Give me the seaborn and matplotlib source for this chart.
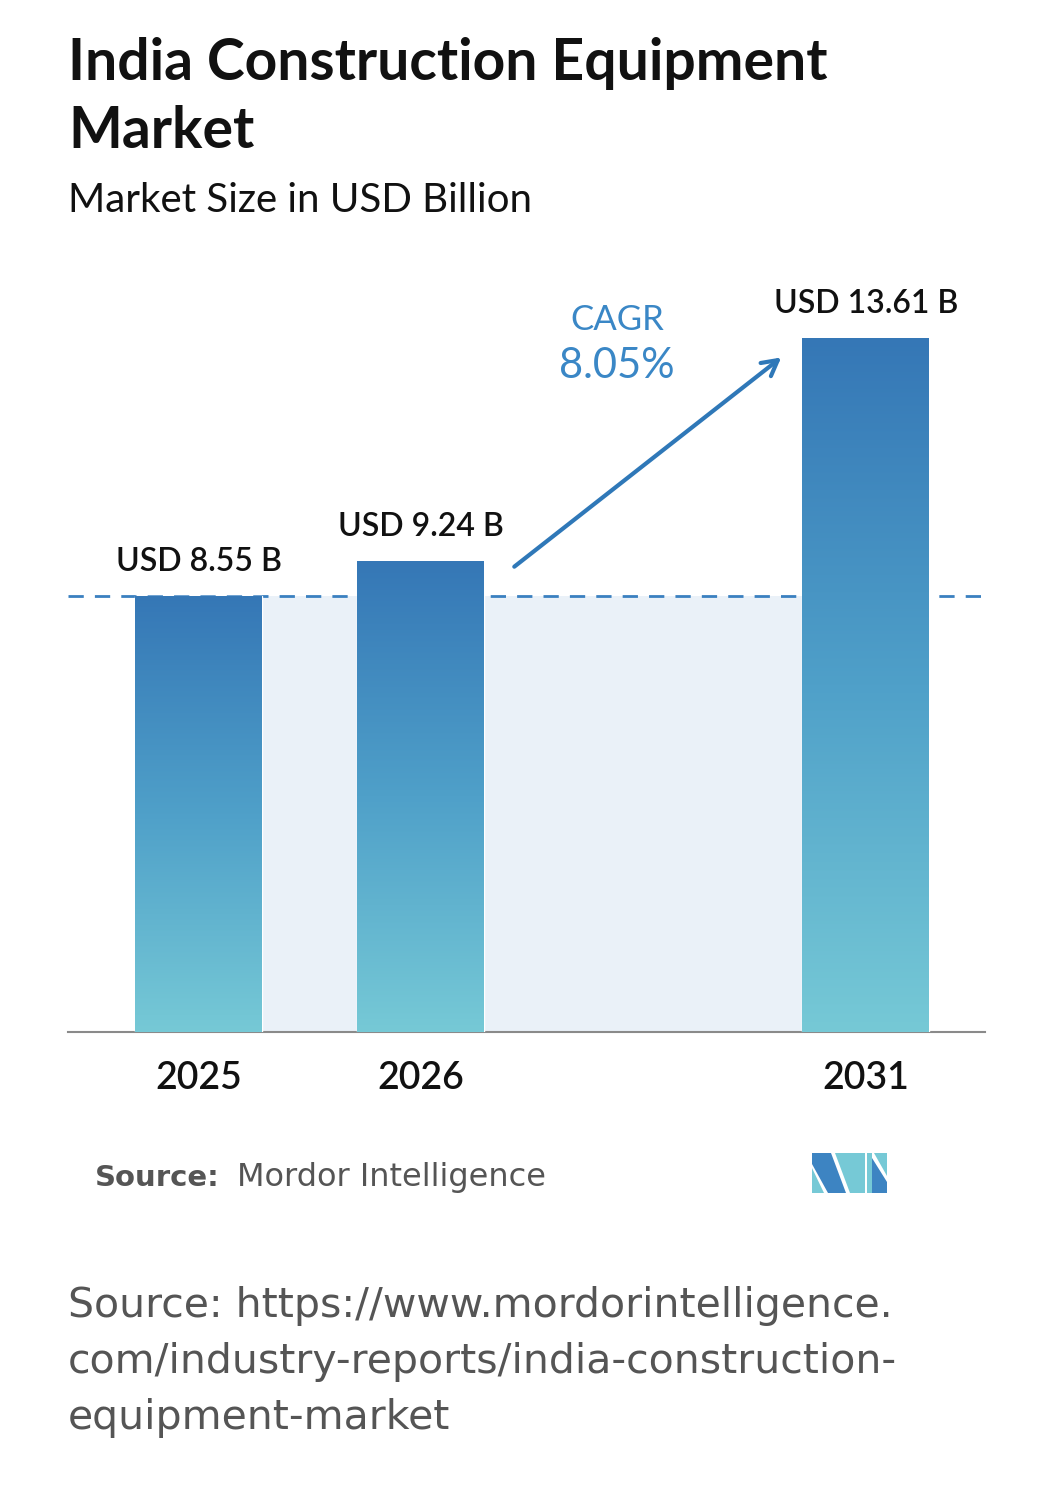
import numpy as np
import matplotlib
matplotlib.use("Agg")
import matplotlib.pyplot as plt
from matplotlib.colors import LinearSegmentedColormap
from matplotlib.patches import Polygon
import seaborn as sns

# data
years = ["2025", "2026", "2031"]
values = [8.55, 9.24, 13.61]
value_labels = ["USD 8.55 B", "USD 9.24 B", "USD 13.61 B"]
cagr_label = "CAGR"
cagr_value = "8.05%"
slot_order = ["2025", "2026", "", "2031"]  # blank slot = gap before forecast year

W, H = 1055, 1491

sns.set_style("white")
plt.rcParams["font.family"] = ["Lato", "DejaVu Sans"]


def fx(px):
    return px / W


def fy(py):
    return 1 - py / H


fig = plt.figure(figsize=(W / 100, H / 100), dpi=100)
ax = fig.add_axes([fx(68), fy(1032), fx(990) - fx(68), (1032 - 280) / H])

sns.barplot(x=years, y=values, order=slot_order, width=0.571,
            color="#3577b6", ax=ax, zorder=3)

XLIM = (-0.587, 3.559)
YLIM = (0, 752 / 51)

# shaded band behind the bars, up to the first year's value
ax.fill_between([0, 3], 0, values[0], color="#eaf1f8", zorder=1, lw=0)
ax.axhline(values[0], color="#3a80c0", lw=2, dashes=(5.5, 4), zorder=2)

# gradient fill for every bar
cmap = LinearSegmentedColormap.from_list("bar", ["#76c9d6", "#4fa0c9", "#3577b6"])
grad = np.linspace(0, 1, 256).reshape(-1, 1)
for bar in list(ax.patches):
    x0, w, h = bar.get_x(), bar.get_width(), bar.get_height()
    if h <= 0 or np.isnan(h):
        continue
    im = ax.imshow(grad, cmap=cmap, origin="lower", aspect="auto",
                   extent=(x0, x0 + w, 0, h), zorder=3.5)
    im.set_clip_path(bar)
    bar.set_facecolor("none")
ax.set_xlim(*XLIM)
ax.set_ylim(*YLIM)

# value labels
xpos = [slot_order.index(y) for y in years]
for x, v, lab in zip(xpos, values, value_labels):
    ax.text(x, v + 0.48, lab, ha="center", va="baseline", fontsize=23,
            fontweight="semibold", color="#111111", zorder=5)

# CAGR arrow and text
ax.annotate("", xy=(xpos[2] - 0.37, values[2] - 0.35),
            xytext=(xpos[1] + 0.41, values[1] - 0.15),
            arrowprops=dict(arrowstyle="->,head_length=1.1,head_width=0.6",
                            color="#2f78b8", lw=3), zorder=5)
fig.text(fx(617), fy(320), cagr_label, ha="center", va="center",
         fontsize=25, color="#3a87c6")
fig.text(fx(617), fy(366), cagr_value, ha="center", va="center",
         fontsize=30, color="#3a87c6")

# axes styling
sns.despine(ax=ax, left=True, top=True, right=True)
ax.spines["bottom"].set_color("#8a8a8a")
ax.spines["bottom"].set_linewidth(1.5)
ax.spines["bottom"].set_bounds(XLIM[0], 3.536)
ax.set_yticks([])
ax.set_xlabel("")
ax.set_ylabel("")
ax.tick_params(axis="x", length=0, pad=21, labelsize=27, labelcolor="#111111")
for t in ax.get_xticklabels():
    t.set_fontweight("semibold")

# titles
fig.text(fx(68), fy(80), "India Construction Equipment", fontsize=41,
         fontweight="bold", color="#111111", va="baseline")
fig.text(fx(68), fy(148), "Market", fontsize=41, fontweight="bold",
         color="#111111", va="baseline")
fig.text(fx(68), fy(212), "Market Size in USD Billion", fontsize=29,
         color="#111111", va="baseline")

# source line + logo
fig.text(fx(95), fy(1186), "Source:", fontsize=21, fontweight="bold",
         color="#555555", va="baseline", family="DejaVu Sans")
fig.text(fx(237), fy(1186), "Mordor Intelligence", fontsize=23,
         color="#555555", va="baseline", family="DejaVu Sans")

logo = [
    ([(812, 1168), (812, 1193), (824, 1193)], "#76c9d6"),
    ([(812, 1153), (831, 1153), (846, 1193), (828, 1193), (812, 1164)], "#3d84c2"),
    ([(835, 1153), (865, 1153), (865, 1193), (850, 1193)], "#76c9d6"),
    ([(867, 1153), (872, 1153), (872, 1193), (867, 1193)], "#76c9d6"),
    ([(874, 1153), (887, 1153), (887, 1176)], "#76c9d6"),
    ([(872, 1158), (887, 1182), (887, 1193), (872, 1193)], "#3d84c2"),
]
for pts, col in logo:
    fig.patches.append(Polygon([(fx(a), fy(b)) for a, b in pts], closed=True,
                               facecolor=col, edgecolor="none",
                               transform=fig.transFigure))

# bottom URL
url_lines = ["Source: https://www.mordorintelligence.",
             "com/industry-reports/india-construction-",
             "equipment-market"]
for i, line in enumerate(url_lines):
    fig.text(fx(68), fy(1317 + i * 56), line, fontsize=29.5,
             color="#555555", va="baseline", family="DejaVu Sans")

fig.savefig("out.png", dpi=100, facecolor="white")
